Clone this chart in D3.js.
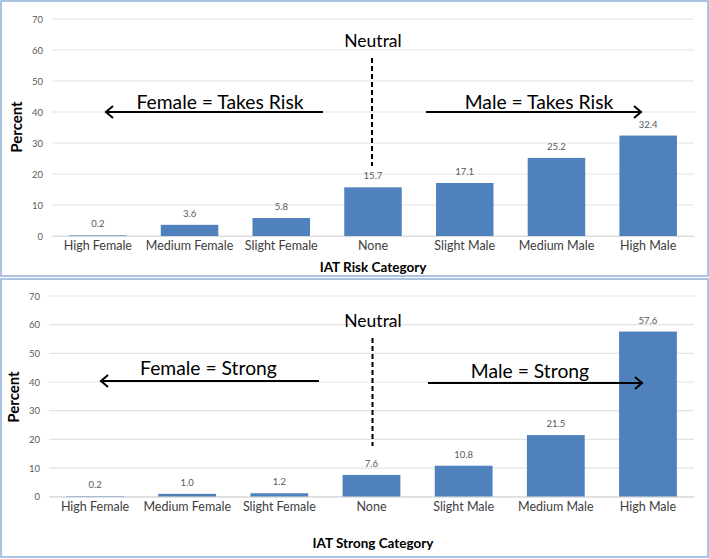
<!DOCTYPE html>
<html><head><meta charset="utf-8">
<script src="https://cdn.jsdelivr.net/npm/d3@7"></script>
<style>body{margin:0;background:#fff;} text{font-family:Lato, "Open Sans", sans-serif;}</style>
</head><body><svg id="c" width="709" height="559"></svg>
<script>
const categories = ["High Female","Medium Female","Slight Female","None","Slight Male","Medium Male","High Male"];
const riskValues = [0.2, 3.6, 5.8, 15.7, 17.1, 25.2, 32.4];
const strongValues = [0.2, 1.0, 1.2, 7.6, 10.8, 21.5, 57.6];
const yTicks = [0,10,20,30,40,50,60,70];
const riskTitle = "IAT Risk Category";
const strongTitle = "IAT Strong Category";
const riskLeftLabel = "Female = Takes Risk", riskRightLabel = "Male = Takes Risk";
const strongLeftLabel = "Female = Strong", strongRightLabel = "Male = Strong";

const svg = d3.select("#c");
const blue = "#4f81bd";

function panel(cfg){
  const g = svg.append("g");
  g.append("rect").attr("x",cfg.box[0]).attr("y",cfg.box[1]).attr("width",cfg.box[2]).attr("height",cfg.box[3])
    .attr("fill","none").attr("stroke","#8fb0d9").attr("stroke-width",1.5);
  const x = d3.scaleBand().domain(categories).range([cfg.x0, 694]).paddingInner(0.373).paddingOuter(0.186);
  const y = d3.scaleLinear().domain([0,70]).range([cfg.y0, cfg.y70]);
  g.selectAll(".grid").data(yTicks).join("line")
    .attr("x1",cfg.x0).attr("x2",694).attr("y1",d=>y(d)).attr("y2",d=>y(d))
    .attr("stroke","#e3e3e3").attr("stroke-width",1.2);
  const ya = g.append("g").attr("transform",`translate(${cfg.x0},0)`)
    .call(d3.axisLeft(y).tickValues(yTicks).tickSize(0).tickPadding(9));
  ya.select(".domain").remove();
  ya.selectAll("text").attr("font-size",9.5).attr("fill","#595959").style("font-family","Lato, sans-serif");
  g.selectAll(".bar").data(cfg.values).join("rect")
    .attr("x",(d,i)=>x(categories[i])).attr("width",x.bandwidth())
    .attr("y",d=>y(d)).attr("height",d=>y(0)-y(d)).attr("fill",blue);
  g.selectAll(".vl").data(cfg.values).join("text")
    .attr("x",(d,i)=>x(categories[i])+x.bandwidth()/2).attr("y",d=>y(d)-8)
    .attr("text-anchor","middle").attr("font-size",9.5).attr("fill","#595959")
    .text(d=>d.toFixed(1));
  const xa = g.append("g").attr("transform",`translate(0,${cfg.y0})`)
    .call(d3.axisBottom(x).tickSize(0).tickPadding(5));
  xa.select(".domain").attr("stroke","#d9d9d9");
  xa.selectAll("text").attr("font-size",12.5).attr("fill","#404040").style("font-family","Lato, sans-serif");
  g.append("text").attr("x",373).attr("y",cfg.xtY).attr("text-anchor","middle")
    .attr("font-size",13.5).attr("font-weight","bold").attr("fill","#000").text(cfg.title);
  g.append("text").attr("transform",`translate(${cfg.ytX},${cfg.ytY}) rotate(-90)`).attr("text-anchor","middle")
    .attr("font-size",15).attr("font-weight","bold").attr("fill","#000").text("Percent");
  g.append("text").attr("x",cfg.neutral[0]).attr("y",cfg.neutral[1]).attr("text-anchor","middle")
    .attr("font-size",17.5).attr("fill","#000").text("Neutral");
  g.append("line").attr("x1",cfg.dash[0]).attr("x2",cfg.dash[0]).attr("y1",cfg.dash[1]).attr("y2",cfg.dash[2])
    .attr("stroke","#000").attr("stroke-width",2).attr("stroke-dasharray","5,3");
  const la = cfg.left;
  g.append("line").attr("x1",la[0]).attr("x2",la[1]).attr("y1",la[2]).attr("y2",la[2]).attr("stroke","#000").attr("stroke-width",2);
  g.append("path").attr("d",`M${la[0]+8},${la[2]-6} L${la[0]+1},${la[2]} L${la[0]+8},${la[2]+6}`)
    .attr("fill","none").attr("stroke","#000").attr("stroke-width",2);
  g.append("text").attr("x",la[3]).attr("y",la[4]).attr("text-anchor","middle").attr("font-size",19.3).text(cfg.leftLabel);
  const ra = cfg.right;
  g.append("line").attr("x1",ra[0]).attr("x2",ra[1]).attr("y1",ra[2]).attr("y2",ra[2]).attr("stroke","#000").attr("stroke-width",2);
  g.append("path").attr("d",`M${ra[1]-8},${ra[2]-6} L${ra[1]-1},${ra[2]} L${ra[1]-8},${ra[2]+6}`)
    .attr("fill","none").attr("stroke","#000").attr("stroke-width",2);
  g.append("text").attr("x",ra[3]).attr("y",ra[4]).attr("text-anchor","middle").attr("font-size",19.3).text(cfg.rightLabel);
}

panel({box:[1,1,707,275], x0:52, y0:236, y70:19, values:riskValues, title:riskTitle,
  xtY:272, ytX:22, ytY:127, neutral:[373,47], dash:[372,58,166],
  left:[105,323,112,220,109], right:[426,642,112,539,109],
  leftLabel:riskLeftLabel, rightLabel:riskRightLabel});
panel({box:[1,279,707,278], x0:49, y0:496.7, y70:296, values:strongValues, title:strongTitle,
  xtY:548, ytX:19, ytY:397, neutral:[373,327], dash:[372.5,338,446],
  left:[100,319,381,208.5,375], right:[428,643,383,530,378],
  leftLabel:strongLeftLabel, rightLabel:strongRightLabel});
</script></body></html>
